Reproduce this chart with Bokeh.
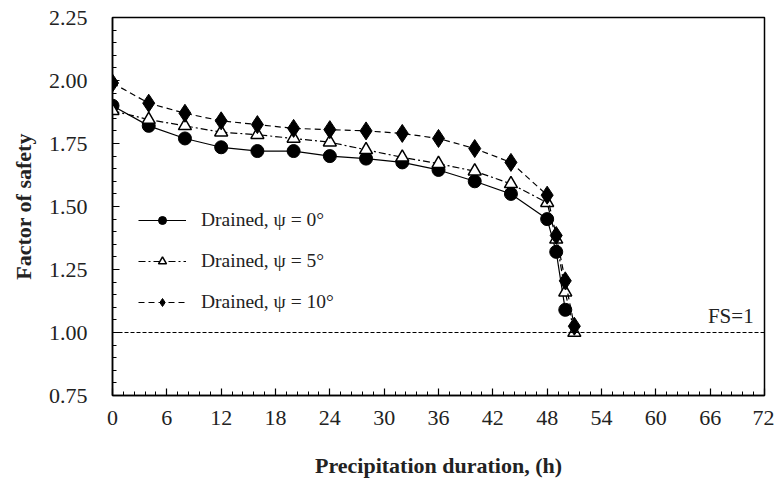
from bokeh.plotting import figure
from bokeh.models import (SingleIntervalTicker, PrintfTickFormatter, Legend, LegendItem,
                          Span, Label, Range1d)
from bokeh.embed import file_html
from bokeh.resources import INLINE

# ---- data ----
t_psi0 = [0, 4, 8, 12, 16, 20, 24, 28, 32, 36, 40, 44, 48, 49, 50]
fs_psi0 = [1.90, 1.82, 1.77, 1.735, 1.72, 1.72, 1.70, 1.69, 1.675, 1.645, 1.60, 1.55, 1.45, 1.32, 1.09]

t_psi5 = [0, 4, 8, 12, 16, 20, 24, 28, 32, 36, 40, 44, 48, 49, 50, 51]
fs_psi5 = [1.88, 1.845, 1.82, 1.795, 1.785, 1.77, 1.755, 1.725, 1.695, 1.67, 1.64, 1.59, 1.515, 1.37, 1.16, 1.00]

t_psi10 = [0, 4, 8, 12, 16, 20, 24, 28, 32, 36, 40, 44, 48, 49, 50, 51]
fs_psi10 = [1.99, 1.91, 1.87, 1.84, 1.825, 1.81, 1.805, 1.80, 1.79, 1.77, 1.73, 1.675, 1.545, 1.385, 1.205, 1.025]

labels = ["Drained, \u03c8 = 0\u00b0", "Drained, \u03c8 = 5\u00b0", "Drained, \u03c8 = 10\u00b0"]
fs_limit = 1.0

SERIF = "Liberation Serif"

p = figure(width=774, height=481, output_backend="svg", toolbar_location=None,
           x_range=Range1d(0, 72), y_range=Range1d(0.75, 2.25),
           min_border_left=112, min_border_right=10, min_border_top=17, min_border_bottom=86)
p.xgrid.visible = False
p.ygrid.visible = False
p.outline_line_color = "black"
p.outline_line_width = 1.5
p.background_fill_color = "white"
p.border_fill_color = "white"

for ax in (p.xaxis[0], p.yaxis[0]):
    ax.axis_line_color = "black"
    ax.axis_line_width = 1.5
    ax.major_tick_in = 7
    ax.major_tick_out = 0
    ax.minor_tick_in = 4
    ax.minor_tick_out = 0
    ax.major_tick_line_color = "black"
    ax.minor_tick_line_color = "black"
    ax.major_tick_line_width = 1.2
    ax.minor_tick_line_width = 1
    ax.major_label_text_font = SERIF
    ax.major_label_text_font_size = "22px"
    ax.major_label_text_color = "#222222"
    ax.axis_label_text_font = SERIF
    ax.axis_label_text_font_style = "bold"
    ax.axis_label_text_font_size = "22px"
    ax.axis_label_text_color = "#222222"

p.xaxis.ticker = SingleIntervalTicker(interval=6, num_minor_ticks=5)
p.yaxis.ticker = SingleIntervalTicker(interval=0.25, num_minor_ticks=5)
p.yaxis.formatter = PrintfTickFormatter(format="%.2f")
p.xaxis.axis_label = "Precipitation duration, (h)"
p.yaxis.axis_label = "Factor of safety"
p.xaxis.major_label_standoff = 15
p.xaxis.axis_label_standoff = 25
p.yaxis.major_label_standoff = 25
p.yaxis.axis_label_standoff = 10

# FS = 1 line
p.add_layout(Span(location=fs_limit, dimension="width", line_color="black",
                  line_width=1, line_dash="4 2"))
p.add_layout(Label(x=70.8, y=fs_limit, text="FS=1", text_align="right",
                   text_baseline="bottom", y_offset=5, text_font=SERIF,
                   text_font_size="21px", text_color="#222222"))

lw = 1.2
l0 = p.line(t_psi0, fs_psi0, line_color="black", line_width=lw)
m0 = p.scatter(t_psi0, fs_psi0, marker="circle", size=13, fill_color="black", line_color="black")

l1 = p.line(t_psi5, fs_psi5, line_color="black", line_width=lw, line_dash="7 3 2 3")
m1 = p.scatter(t_psi5, fs_psi5, marker="triangle", size=13, fill_color="white",
               line_color="black", line_width=1.5)

l2 = p.line(t_psi10, fs_psi10, line_color="black", line_width=lw, line_dash="6 4")
m2 = p.scatter(t_psi10, fs_psi10, marker="diamond", size=18, fill_color="black", line_color="black")

legend = Legend(items=[LegendItem(label=labels[0], renderers=[l0, m0]),
                       LegendItem(label=labels[1], renderers=[l1, m1]),
                       LegendItem(label=labels[2], renderers=[l2, m2])],
                location=(26, 82), border_line_color=None, background_fill_alpha=0,
                padding=0, margin=0, spacing=19, glyph_width=48, glyph_height=20,
                label_height=20, label_standoff=15, label_text_font=SERIF,
                label_text_font_size="19.5px", label_text_color="#222222")
p.add_layout(legend)

open("out.html", "w").write(file_html(p, INLINE))
